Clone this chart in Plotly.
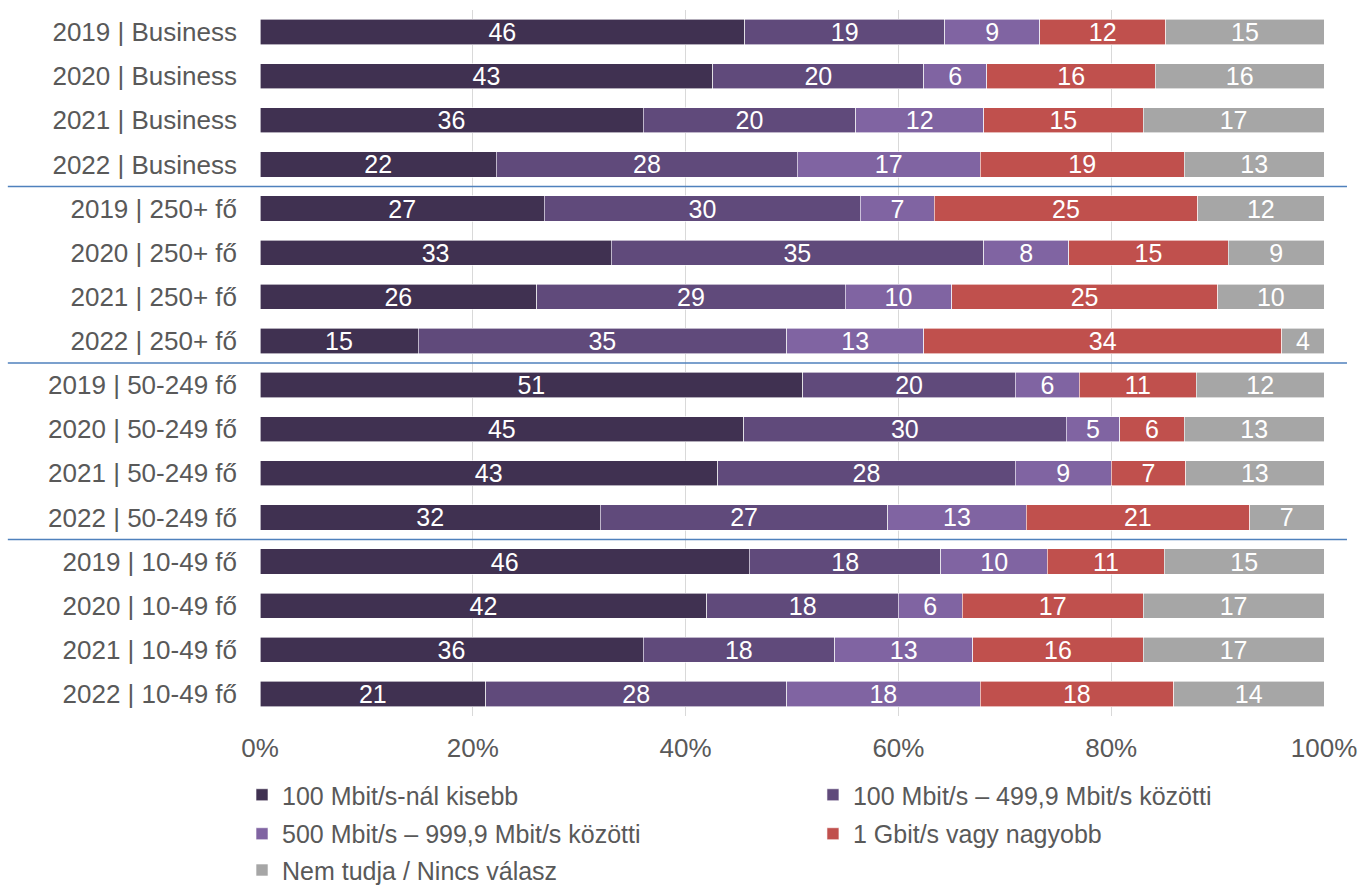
import plotly.graph_objects as go

# Row labels, top to bottom
categories = [
    "2019 | Business", "2020 | Business", "2021 | Business", "2022 | Business",
    "2019 | 250+ fő", "2020 | 250+ fő", "2021 | 250+ fő", "2022 | 250+ fő",
    "2019 | 50-249 fő", "2020 | 50-249 fő", "2021 | 50-249 fő", "2022 | 50-249 fő",
    "2019 | 10-49 fő", "2020 | 10-49 fő", "2021 | 10-49 fő", "2022 | 10-49 fő",
]

# Share of respondents (%) per speed band
below_100 = [46, 43, 36, 22, 27, 33, 26, 15, 51, 45, 43, 32, 46, 42, 36, 21]
from_100_to_500 = [19, 20, 20, 28, 30, 35, 29, 35, 20, 30, 28, 27, 18, 18, 18, 28]
from_500_to_1000 = [9, 6, 12, 17, 7, 8, 10, 13, 6, 5, 9, 13, 10, 6, 13, 18]
gbit_or_more = [12, 16, 15, 19, 25, 15, 25, 34, 11, 6, 7, 21, 11, 17, 16, 18]
no_answer = [15, 16, 17, 13, 12, 9, 10, 4, 12, 13, 13, 7, 15, 17, 17, 14]

series_names = [
    "100 Mbit/s-nál kisebb",
    "100 Mbit/s – 499,9 Mbit/s közötti",
    "500 Mbit/s – 999,9 Mbit/s közötti",
    "1 Gbit/s vagy nagyobb",
    "Nem tudja / Nincs válasz",
]
series_values = [below_100, from_100_to_500, from_500_to_1000, gbit_or_more, no_answer]
series_colors = ["#403151", "#604A7B", "#8064A2", "#C0504D", "#A6A6A6"]

# Each legend entry gets its own box: two columns, three rows
legend_ids = ["legend", "legend2", "legend3", "legend4", "legend5"]
legend_pos = [(-0.0169, -0.1119), (0.5197, -0.1119),
              (-0.0169, -0.1671), (0.5197, -0.1671),
              (-0.0169, -0.2185)]

x_ticks = [0, 20, 40, 60, 80, 100]

FONT = "Liberation Sans, Arial, sans-serif"
TEXT_GREY = "#595959"

fig = go.Figure()
for name, vals, color, lg in zip(series_names, series_values, series_colors, legend_ids):
    fig.add_trace(go.Bar(
        y=categories,
        x=vals,
        name=name,
        orientation="h",
        marker=dict(color=color, line=dict(color="#FFFFFF", width=0.6)),
        text=[str(v) for v in vals],
        textposition="inside",
        insidetextanchor="middle",
        textangle=0,
        textfont=dict(color="#FFFFFF", size=25, family=FONT),
        legend=lg,
        hoverinfo="x+y+name",
    ))

# Blue separators between the company-size groups
for boundary in [3.5, 7.5, 11.5]:
    fig.add_shape(
        type="line", xref="paper", yref="y",
        x0=-0.237, x1=1.0216, y0=boundary, y1=boundary,
        line=dict(color="#4F81BD", width=1.5),
    )

legend_layout = {}
for lg, (lx, ly) in zip(legend_ids, legend_pos):
    legend_layout[lg] = dict(
        x=lx, y=ly, xanchor="left", yanchor="middle",
        orientation="h", traceorder="normal",
        font=dict(size=25, family=FONT, color=TEXT_GREY),
        bgcolor="rgba(0,0,0,0)",
        itemclick=False, itemdoubleclick=False,
    )

fig.update_layout(
    width=1359, height=886,
    margin=dict(l=260, r=35, t=10, b=170, autoexpand=False),
    paper_bgcolor="#FFFFFF", plot_bgcolor="#FFFFFF",
    barmode="stack", barnorm="percent", bargap=0.43,
    font=dict(family=FONT, color=TEXT_GREY, size=26),
    uniformtext=dict(minsize=25, mode="show"),
    xaxis=dict(
        range=[0, 100], tickvals=x_ticks,
        ticktext=[f"{t}%" for t in x_ticks],
        showgrid=True, gridcolor="#D9D9D9", gridwidth=1,
        zeroline=False, showline=False,
        tickfont=dict(size=26, color=TEXT_GREY),
        ticks="", ticklabelstandoff=14, fixedrange=True,
    ),
    yaxis=dict(
        type="category", categoryorder="array", categoryarray=categories,
        autorange="reversed", showgrid=False, zeroline=False, showline=False,
        tickfont=dict(size=26, color=TEXT_GREY), ticks="",
        ticklabelstandoff=22, fixedrange=True,
    ),
    showlegend=True,
    **legend_layout,
)

fig.write_html("out.html")
